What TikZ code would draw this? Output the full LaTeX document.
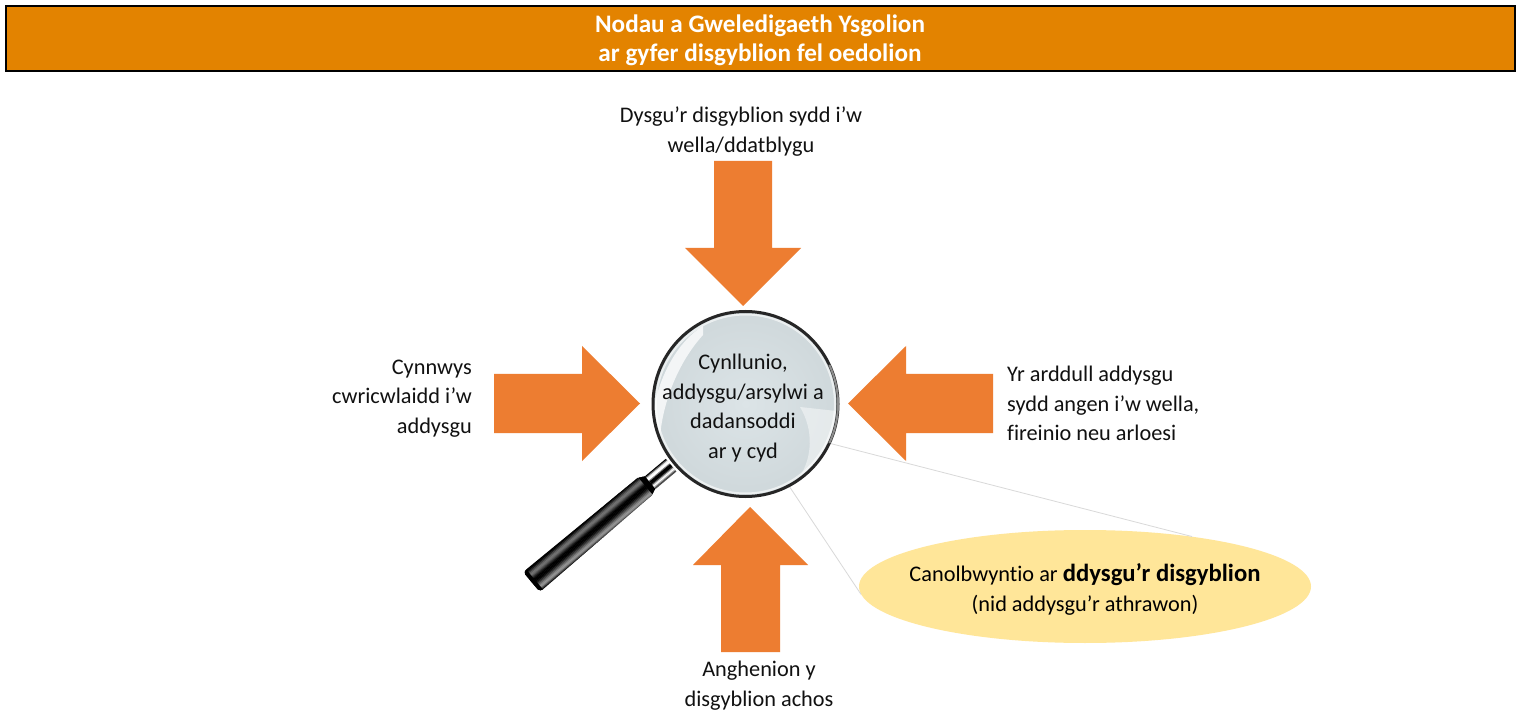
\documentclass[tikz,border=0pt]{standalone}
\usepackage{fontspec}
\setmainfont[Ligatures=NoCommon]{Carlito}
\usetikzlibrary{shapes.geometric}
\definecolor{bannerc}{HTML}{E38300}
\definecolor{arrowc}{HTML}{ED7D31}
\definecolor{ovalc}{HTML}{FFE699}
\definecolor{leaderc}{HTML}{D9D9D9}
\definecolor{textc}{HTML}{111111}
\definecolor{glassin}{HTML}{DCE4E7}
\definecolor{glassout}{HTML}{CFD8DB}
\tikzset{
  x=1pt,y=-1pt,
  bannerbox/.style={draw=black,line width=2pt,fill=bannerc,minimum width=1509pt,minimum height=64.5pt,inner sep=0pt},
  bannertext/.style={text=white,align=center,inner sep=0pt,font=\fontsize{25.2}{29}\selectfont\bfseries},
  label/.style={align=center,text=textc,font=\fontsize{22.3}{29.5}\selectfont,inner sep=0pt},
  rlabel/.style={label,align=right},
  llabel/.style={label,align=left},
  bigarrow/.style={fill=arrowc,draw=none},
  leader/.style={draw=leaderc,line width=0.8pt},
  lensnode/.style={circle,minimum size=186pt,inner sep=0pt},
  ovalnode/.style={ellipse,fill=ovalc,minimum width=452pt,minimum height=113pt,inner sep=0pt}
}
\begin{document}
\begin{tikzpicture}
\useasboundingbox (0,0) rectangle (1519,711);
\fill[white] (0,0) rectangle (1519,711);
\node[bannerbox] (banner) at (760.5,38.3) {};
\node[bannertext] (bannerlabel) at (760,40.3) {Nodau a Gweledigaeth Ysgolion\\ar gyfer disgyblion fel oedolion};

% arrows
\fill[bigarrow] (714,161)--(772,161)--(772,248)--(801,248)--(743,306)--(685,248)--(714,248)--cycle;
\fill[bigarrow] (494,374)--(582,374)--(582,346)--(640,403.5)--(582,461)--(582,433)--(494,433)--cycle;
\fill[bigarrow] (993,374)--(906,374)--(906,346)--(848,403.5)--(906,461)--(906,433)--(993,433)--cycle;
\fill[bigarrow] (721,652)--(780,652)--(780,565)--(808,565)--(750,507)--(693,565)--(721,565)--cycle;

% oval and lens nodes
\node[ovalnode] (oval) at (1085,586.5) {};
\node[lensnode] (lens) at (745.5,404) {};
\draw[leader] (lens.-25) -- (oval.25.5);
\draw[leader] (lens.-62) -- (oval.182);

% handle: local x runs from the butt end to the lens
\begin{scope}[shift={(531.5,582)},rotate=40]
  \begin{scope}
    \clip (0,-10) .. controls (1,-12) and (2,-13) .. (4,-13) -- (148,-11.5) -- (155,-8) -- (155,8) -- (148,11) -- (4,13) .. controls (2,13) and (1,12) .. (0,10) -- cycle;
    \foreach \v [count=\i] in {100,100,90,76,64,56,58,68,80,92,100,100,100,96,86,74,62,50,42,48,68,90}
      \fill[black!\v] (0,{(\i-12)*1.18}) rectangle (155,{(\i-10.7)*1.18});
    \fill[black] (0,-14) rectangle (4,14);
    \fill[black] (149,-14) rectangle (155,14);
  \end{scope}
  \foreach \v [count=\i] in {100,60,10,0,0,50,100,100,100,70,20,0,30,70}
    \fill[black!\v] (155,{(\i-8)*1.15}) rectangle (182,{(\i-6.6)*1.15});
\end{scope}

% lens
\shade[inner color=glassin,outer color=glassout] (lens.center) circle[radius=92];
\fill[white,opacity=.75] (703,326) .. controls (680,340) and (660,372) .. (653,412) .. controls (655,425) and (657,430) .. (660,436) .. controls (664,395) and (682,358) .. (703,335) -- cycle;
\fill[white,opacity=.45] (800,407) -- (836,411) .. controls (834,440) and (820,462) .. (800,476) .. controls (812,458) and (814,430) .. (800,407) -- cycle;
\draw[white,opacity=.6,line width=2pt] (lens.center) circle[radius=89.5];
\draw[black!85,line width=3pt] (lens.center) circle[radius=92.5];
\draw[black!45,line width=2pt] (lens.center) ++(25:92.5) arc[start angle=25,end angle=-25,radius=92.5];
\node[label] (lenstext) at (743,408) {Cynllunio,\\addysgu/arsylwi a\\dadansoddi\\ar y cyd};

% labels
\node[label] (top) at (741,131.5) {Dysgu’r disgyblion sydd i’w\\wella/ddatblygu};
\node[rlabel,anchor=east] (left) at (472,398.5) {Cynnwys\\cwricwlaidd i’w\\addysgu};
\node[llabel,anchor=west] (right) at (1007,403.5) {Yr arddull addysgu\\sydd angen i’w wella,\\fireinio neu arloesi};
\node[label] (bottom) at (759,685.5) {Anghenion y\\disgyblion achos};
\node[label,text=black] (ovaltext) at ([yshift=-3pt]oval.center) {Canolbwyntio ar {\fontsize{24.7}{29}\selectfont\bfseries ddysgu’r disgyblion}\\(nid addysgu’r athrawon)};
\end{tikzpicture}
\end{document}
